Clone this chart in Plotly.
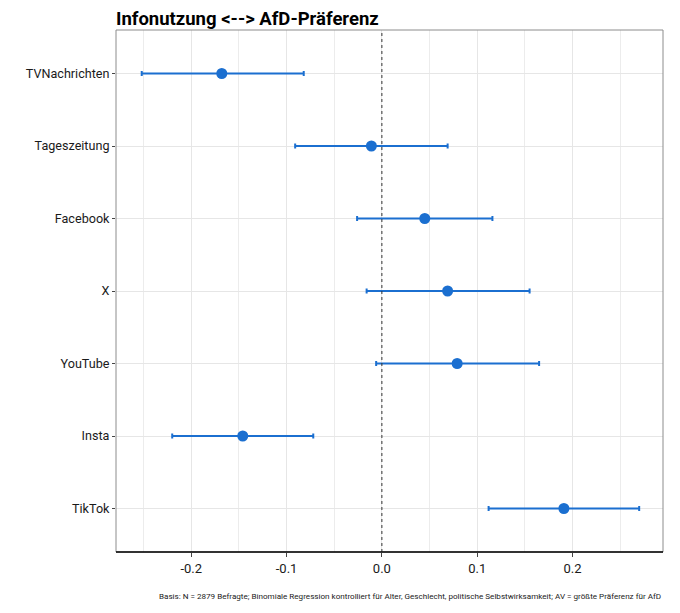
import plotly.graph_objects as go

# Koeffizienten (Average Marginal Effects) mit Konfidenzintervallen
kategorien = ["TVNachrichten", "Tageszeitung", "Facebook", "X", "YouTube", "Insta", "TikTok"]
schaetzer = [-0.168, -0.011, 0.045, 0.069, 0.079, -0.146, 0.191]
untergrenze = [-0.252, -0.091, -0.026, -0.016, -0.006, -0.220, 0.112]
obergrenze = [-0.082, 0.069, 0.116, 0.155, 0.165, -0.072, 0.270]
x_ticks = [-0.2, -0.1, 0.0, 0.1, 0.2]

blau = "#1b6fd0"

W, H = 680, 613
L, R, T, B = 108, 25, 22, 69   # Seite wird mit 8px Rand angezeigt
panel_h = H - T - B

fig = go.Figure()
fig.add_trace(go.Scatter(
    x=schaetzer,
    y=kategorien,
    mode="markers",
    marker=dict(color=blau, size=11),
    error_x=dict(
        type="data",
        symmetric=False,
        array=[o - s for o, s in zip(obergrenze, schaetzer)],
        arrayminus=[s - u for s, u in zip(schaetzer, untergrenze)],
        color=blau,
        thickness=2,
        width=2.5,
    ),
    showlegend=False,
))

# gestrichelte Nulllinie
fig.add_shape(type="line", xref="x", yref="paper", x0=0, x1=0, y0=0, y1=1,
              line=dict(color="#333333", width=1, dash="dot"))

fig.update_layout(
    width=W, height=H,
    margin=dict(l=L, r=R, t=T, b=B),
    plot_bgcolor="white",
    paper_bgcolor="white",
    font=dict(family="Roboto", color="#1a1a1a"),
    title=dict(text="<b>Infonutzung <--> AfD-Präferenz</b>", x=L / W, xanchor="left",
               y=1 - 11 / H, yanchor="middle", font=dict(size=18.5, color="black")),
    annotations=[dict(
        text="Basis: N = 2879 Befragte; Binomiale Regression kontrolliert für Alter, Geschlecht, politische Selbstwirksamkeit; AV = größte Präferenz für AfD",
        xref="paper", yref="paper", x=1, y=-44 / panel_h, xanchor="right", yanchor="middle",
        showarrow=False, font=dict(size=8.1, color="#1a1a1a"))],
)

fig.update_xaxes(
    range=[-0.279, 0.295],
    tickvals=x_ticks,
    ticktext=["%.1f" % v for v in x_ticks],
    tickfont=dict(size=13, color="#1a1a1a"),
    showgrid=True, gridcolor="#e6e6e6", gridwidth=1,
    minor=dict(tickvals=[-0.25, -0.15, -0.05, 0.05, 0.15, 0.25], showgrid=True,
               gridcolor="#ececec", gridwidth=1, ticks=""),
    zeroline=False,
    ticks="outside", ticklen=4, tickcolor="#444444",
    showline=False,
)
fig.update_yaxes(
    categoryorder="array",
    categoryarray=kategorien[::-1],
    range=[-0.6, 6.6],
    tickfont=dict(size=12.6, color="#1a1a1a"),
    showgrid=True, gridcolor="#e6e6e6", gridwidth=1,
    zeroline=False,
    ticks="outside", ticklen=3, tickcolor="#444444",
    showline=False,
)

# grauer Rahmen um das Panel, unten schwarze Achsenlinie
fig.add_shape(type="rect", xref="paper", yref="paper", x0=0, x1=1, y0=0, y1=1,
              line=dict(color="#8c8c8c", width=1), layer="above")
fig.add_shape(type="line", xref="paper", yref="paper", x0=0, x1=1, y0=0, y1=0,
              line=dict(color="black", width=1.5), layer="above")

fig.write_html("out.html")
